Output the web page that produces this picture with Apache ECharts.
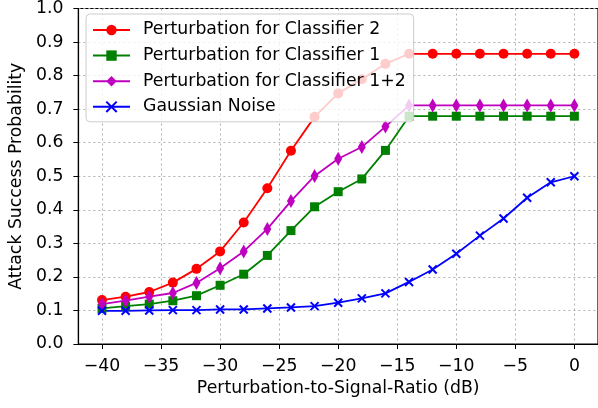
<!DOCTYPE html>
<html>
<head>
<meta charset="utf-8">
<script src="https://cdn.jsdelivr.net/npm/echarts@6/dist/echarts.min.js"></script>
<style>
  html, body { margin: 0; padding: 0; background: #fff; }
  #chart { width: 598px; height: 408px; }
</style>
</head>
<body>
<div id="chart"></div>
<script>
// x positions (dB)
const psr = [-40, -38, -36, -34, -32, -30, -28, -26, -24, -22, -20, -18, -16, -14, -12, -10, -8, -6, -4, -2, 0]
const xTicks = [-40, -35, -30, -25, -20, -15, -10, -5, 0]

const clf2 = [0.131, 0.141, 0.155, 0.183, 0.224, 0.276, 0.362, 0.464, 0.576, 0.677, 0.747, 0.789, 0.835, 0.865, 0.865, 0.865, 0.865, 0.865, 0.865, 0.865, 0.865]
const clf1 = [0.106, 0.113, 0.119, 0.129, 0.144, 0.175, 0.208, 0.264, 0.338, 0.409, 0.454, 0.492, 0.577, 0.679, 0.679, 0.679, 0.679, 0.679, 0.679, 0.679, 0.679]
const clf12 = [0.119, 0.129, 0.141, 0.152, 0.182, 0.226, 0.276, 0.343, 0.426, 0.501, 0.552, 0.587, 0.648, 0.711, 0.711, 0.711, 0.711, 0.711, 0.711, 0.711, 0.711]
const gauss = [0.099, 0.099, 0.100, 0.101, 0.101, 0.103, 0.103, 0.106, 0.109, 0.113, 0.123, 0.136, 0.151, 0.185, 0.222, 0.269, 0.323, 0.374, 0.436, 0.482, 0.500]

const font = 'DejaVu Sans'
const fs = 17.3
const crossPath = 'path://M0,0L10,10M0,10L10,0'

const mkSeries = (name, values, color, symbol, symbolSize, extra) => ({
    name,
    type: 'line',
    data: psr.map((x, i) => [x, values[i]]),
    symbol,
    symbolSize,
    showSymbol: true,
    lineStyle: { width: 1.8, color },
    itemStyle: Object.assign({ color, opacity: 1 }, extra || {}),
    emphasis: { disabled: true }
})

const chart = echarts.init(document.getElementById('chart'))
chart.setOption({
    animation: false,
    textStyle: { fontFamily: font },
    grid: {
        left: 77, right: -2, top: 6, bottom: 64,
        show: true, borderColor: '#000', borderWidth: 1.2
    },
    legend: {
        left: 86, top: 14,
        orient: 'vertical',
        itemWidth: 37, itemHeight: 13, itemGap: 8.6,
        padding: [7.5, 8, 6.5, 6],
        backgroundColor: 'rgba(255,255,255,0.8)',
        borderColor: '#cccccc', borderWidth: 1, borderRadius: 4,
        textStyle: { fontFamily: font, fontSize: fs, color: '#000', padding: [0, 0, 0, 8] },
        data: ['Perturbation for Classifier 2', 'Perturbation for Classifier 1', 'Perturbation for Classifier 1+2', 'Gaussian Noise']
    },
    xAxis: {
        type: 'value', min: -42, max: 2,
        name: 'Perturbation-to-Signal-Ratio (dB)',
        nameLocation: 'middle', nameGap: 35,
        nameTextStyle: { fontFamily: font, fontSize: fs, color: '#000' },
        axisLine: { onZero: false, lineStyle: { color: '#000', width: 1.2 } },
        axisTick: { show: true, inside: false, length: 5, customValues: xTicks, lineStyle: { color: '#000' } },
        axisLabel: {
            customValues: xTicks, fontFamily: font, fontSize: fs, color: '#000', margin: 14,
            formatter: v => (v < 0 ? '\u2212' + Math.abs(v) : String(v))
        },
        splitLine: { show: true, lineStyle: { color: '#b0b0b0', type: [2, 3], width: 1 } }
    },
    yAxis: {
        type: 'value', min: 0, max: 1, interval: 0.1,
        name: 'Attack Success Probability',
        nameLocation: 'middle', nameGap: 48,
        nameTextStyle: { fontFamily: font, fontSize: fs, color: '#000' },
        axisLine: { show: true, onZero: false, lineStyle: { color: '#000', width: 1.2 } },
        axisTick: { show: true, inside: false, length: 5, lineStyle: { color: '#000' } },
        axisLabel: {
            fontFamily: font, fontSize: fs, color: '#000', margin: 15,
            formatter: v => v.toFixed(1)
        },
        splitLine: { show: true, lineStyle: { color: '#b0b0b0', type: [2, 3], width: 1 } }
    },
    series: [
        mkSeries('Perturbation for Classifier 2', clf2, '#ff0000', 'circle', 10),
        mkSeries('Perturbation for Classifier 1', clf1, '#008000', 'rect', 9),
        mkSeries('Perturbation for Classifier 1+2', clf12, '#bf00bf', 'diamond', [8, 14]),
        mkSeries('Gaussian Noise', gauss, '#0000ff', crossPath, 8, { borderColor: '#0000ff', borderWidth: 2 })
    ]
})
</script>
</body>
</html>
